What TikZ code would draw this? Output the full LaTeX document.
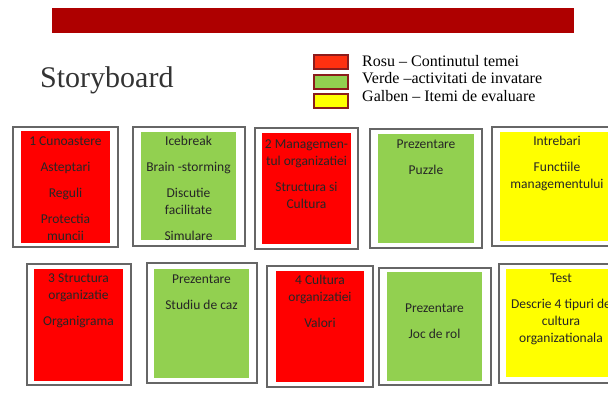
\documentclass[tikz,border=0pt]{standalone}
\usepackage{fontspec}
\setmainfont{Liberation Serif}
\newfontfamily\calibri{Carlito}
\usepackage{tikz}
\definecolor{barred}{HTML}{AE0000}
\definecolor{cardred}{HTML}{FF0000}
\definecolor{cardgreen}{HTML}{92D050}
\definecolor{cardyellow}{HTML}{FFFF00}
\definecolor{keyred}{HTML}{FF3010}
\definecolor{keyedge}{HTML}{8C1C1C}

\begin{document}
\begin{tikzpicture}[x=1pt, y=-1pt,
    frame/.style={draw=black!60, line width=1.1pt, fill=white},
    keybox/.style={draw=keyedge, line width=1.1pt},
    cardtext/.style={font=\calibri\fontsize{13.5}{17}\selectfont, align=center, anchor=north, inner sep=0pt, text=black!85},
    keytext/.style={font=\fontsize{16}{19}\selectfont, anchor=base west, inner sep=0pt}]
\useasboundingbox (0,0) rectangle (608,413);
\clip (0,0) rectangle (608,413);
\fill[barred] (52,8) rectangle (574,33);
\node (title) at (40,87)[anchor=base west, inner sep=0pt, font=\fontsize{30}{36}\selectfont, text=black!80]{Storyboard};

% legenda
\foreach \y/\col in {55/keyred, 75/cardgreen, 94/cardyellow}
{
    \draw[keybox, fill=\col] (314,\y) rectangle (348,\y+14);
}
\node (k1) at (362,66)[keytext]{Rosu – Continutul temei};
\node (k2) at (362,83.5)[keytext]{Verde –activitati de invatare};
\node (k3) at (362,101)[keytext]{Galben – Itemi de evaluare};

% cartonase: rama, apoi culoarea
\foreach \a/\b/\c/\d/\e/\f/\g/\h/\col in {13/127/118/247/21/131/110/243/cardred,
    133/127/245/246/141/132/236/240/cardgreen, 255/128/358/249/262/133/351/244/cardred,
    370/129/482/248/378/134/474/243/cardgreen, 492/127/622/246/500/132/615/241/cardyellow,
    27/264/131/385/34/269/123/381/cardred, 147/263/257/383/154/269/249/378/cardgreen,
    267/266/373/387/276/271/364/382/cardred, 379/268/491/385/387/272/482/381/cardgreen,
    499/264/622/383/506/269/616/377/cardyellow}
{
    \draw[frame] (\a,\b) rectangle (\c,\d);
    \fill[\col] (\e,\f) rectangle (\g,\h);
}

\node (c1) at (65.5,133)[cardtext]{\strut 1 Cunoastere\\[9pt] Asteptari\\[9pt] Reguli\\[9pt] Protectia\\ muncii};
\node (c2) at (188.5,133)[cardtext]{\strut Icebreak\\[9pt] Brain -storming\\[9pt] Discutie\\ facilitate\\[9pt] Simulare};
\node (c3) at (306.5,136)[cardtext]{\strut 2 Managemen-\\ tul organizatiei\\[9pt] Structura si\\ Cultura};
\node (c4) at (426,136)[cardtext]{\strut Prezentare\\[9pt] Puzzle};
\node (c5) at (557,133)[cardtext]{\strut Intrebari\\[9pt] Functiile\\ managementului};
\node (c6) at (78.5,270)[cardtext]{\strut 3 Structura\\ organizatie\\[9pt] Organigrama};
\node (c7) at (201.5,271)[cardtext]{\strut Prezentare\\[9pt] Studiu de caz};
\node (c8) at (320,272)[cardtext]{\strut 4 Cultura\\ organizatiei\\[9pt] Valori};
\node (c9) at (434.5,300)[cardtext]{\strut Prezentare\\[9pt] Joc de rol};
\node (c10) at (561,270)[cardtext]{\strut Test\\[9pt] Descrie 4 tipuri de\\ cultura\\ organizationala};
\end{tikzpicture}
\end{document}
